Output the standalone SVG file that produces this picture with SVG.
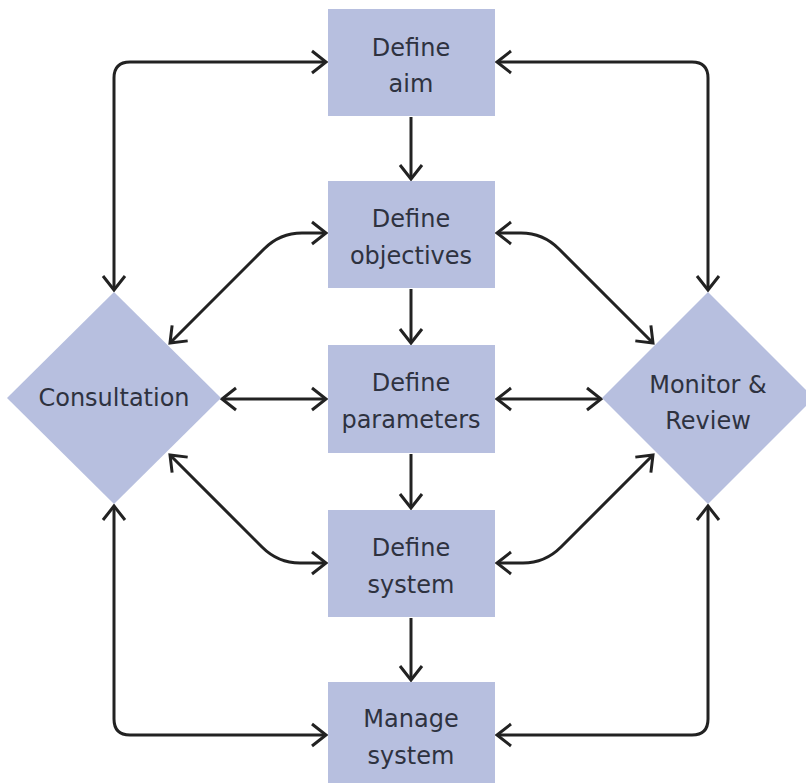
<svg xmlns="http://www.w3.org/2000/svg" width="806" height="783" viewBox="0 0 806 783">
<style>
.box{fill:#b7bfdf}
.lbl{font-family:"DejaVu Sans",sans-serif;font-size:24px;fill:#2e3240;text-anchor:middle}
.c{fill:none;stroke:#222;stroke-width:3}
</style>
<defs>
<marker id="ah" viewBox="-17 -14 20 28" refX="0" refY="0" markerWidth="20" markerHeight="28" markerUnits="userSpaceOnUse" orient="auto-start-reverse">
<path d="M-14,-11 L0,0 L-14,11" fill="none" stroke="#222" stroke-width="3"/>
</marker>
</defs>
<rect width="806" height="783" fill="#fff"/>
<g id="connectors">
<path class="c" d="M411 117 L411 179" marker-end="url(#ah)"/>
<path class="c" d="M411 289 L411 343" marker-end="url(#ah)"/>
<path class="c" d="M411 454 L411 508" marker-end="url(#ah)"/>
<path class="c" d="M411 618 L411 680" marker-end="url(#ah)"/>
<path class="c" d="M326 62 L130 62 Q114 62 114 78 L114 290" marker-start="url(#ah)" marker-end="url(#ah)"/>
<path class="c" d="M497 62 L692 62 Q708 62 708 78 L708 290" marker-start="url(#ah)" marker-end="url(#ah)"/>
<path class="c" d="M114 506 L114 719 Q114 735 130 735 L326 735" marker-start="url(#ah)" marker-end="url(#ah)"/>
<path class="c" d="M708 506 L708 719 Q708 735 692 735 L497 735" marker-start="url(#ah)" marker-end="url(#ah)"/>
<path class="c" d="M222 399 L326 399" marker-start="url(#ah)" marker-end="url(#ah)"/>
<path class="c" d="M497 399 L601 399" marker-start="url(#ah)" marker-end="url(#ah)"/>
<path class="c" d="M170 343 L264 249 Q280 233 302 233 L326 233" marker-start="url(#ah)" marker-end="url(#ah)"/>
<path class="c" d="M170 455 L262 547 Q278 563 300 563 L326 563" marker-start="url(#ah)" marker-end="url(#ah)"/>
<path class="c" d="M497 233 L521 233 Q543 233 559 249 L653 343" marker-start="url(#ah)" marker-end="url(#ah)"/>
<path class="c" d="M497 563 L523 563 Q545 563 561 547 L653 455" marker-start="url(#ah)" marker-end="url(#ah)"/>
</g>
<g id="define-aim"><rect class="box" x="328" y="9" width="167" height="107"/><text class="lbl" x="411" y="56">Define</text><text class="lbl" x="411" y="92">aim</text></g>
<g id="define-objectives"><rect class="box" x="328" y="181" width="167" height="107"/><text class="lbl" x="411" y="227">Define</text><text class="lbl" x="411" y="264">objectives</text></g>
<g id="define-parameters"><rect class="box" x="328" y="345" width="167" height="108"/><text class="lbl" x="411" y="391">Define</text><text class="lbl" x="411" y="428">parameters</text></g>
<g id="define-system"><rect class="box" x="328" y="510" width="167" height="107"/><text class="lbl" x="411" y="556">Define</text><text class="lbl" x="411" y="593">system</text></g>
<g id="manage-system"><rect class="box" x="328" y="682" width="167" height="107"/><text class="lbl" x="411" y="727">Manage</text><text class="lbl" x="411" y="764">system</text></g>
<g id="consultation"><polygon class="box" points="114,292 221,398 114,504 7,398"/><text class="lbl" x="114" y="406">Consultation</text></g>
<g id="monitor-review"><polygon class="box" points="708,292 814,398 708,504 602,398"/><text class="lbl" x="708" y="393">Monitor &amp;</text><text class="lbl" x="708" y="429">Review</text></g>
</svg>
